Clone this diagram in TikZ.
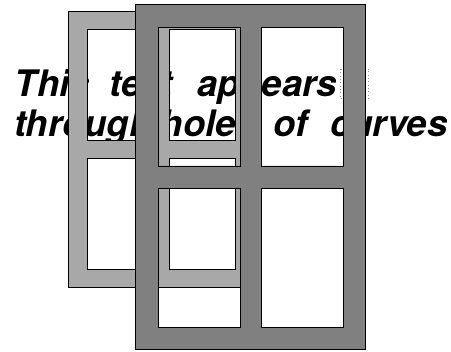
\documentclass[tikz,border=0pt]{standalone}
\usepackage{fontspec}
\newfontfamily\curvefont{TeX Gyre Heros}
\usepackage{tikz}
\usetikzlibrary{positioning}
\usepackage{xcolor}
\definecolor{FrameLight}{HTML}{A8A8A8}
\definecolor{FrameDark}{HTML}{808080}
\definecolor{CursorGray}{HTML}{9A9A9A}

\newcommand{\windowframe}[1]{%
  \filldraw[#1, even odd rule]
    (0,0) rectangle (230.7,345)
    (23.7,23) rectangle (105,161.7)
    (126.7,23) rectangle (208.3,161.7)
    (23.7,184.4) rectangle (105,323)
    (126.7,184.4) rectangle (208.3,323);}

\begin{document}
\begin{tikzpicture}[
  x=0.75pt, y=-0.75pt,
  curveword/.style={anchor=base west, inner sep=0pt, outer sep=0pt,
    font=\fontsize{27.4}{30}\selectfont\curvefont\bfseries\itshape},
  lightframe/.style={fill=FrameLight, draw=black, line width=0.6pt},
  darkframe/.style={fill=FrameDark, draw=black, line width=0.6pt},
  cursorbox/.style={draw=CursorGray, dotted, line width=0.5pt}
]
  \useasboundingbox (0,0) rectangle (451,352);

  % the words, placed one by one
  \node[curveword] (this)    at (15,97)   {This};
  \node[curveword] (text)    at (109,97)  {text};
  \node[curveword] (appears) at (197,97)  {appears};
  \node[curveword] (through) at (14,137)  {through};
  \node[curveword] (holes)   at (161,137) {holes};
  \node[curveword] (of)      at (273,137) {of};
  \node[curveword] (curves)  at (330,137) {curves};

  \draw[cursorbox] (340.7,69) rectangle (368.5,98.3);

  % back frame, the front one scaled by 0.8
  \begin{scope}[shift={(68.5,11.3)}, scale=0.8]
    \windowframe{lightframe}
  \end{scope}

  \begin{scope}[shift={(135,4.3)}]
    \windowframe{darkframe}
  \end{scope}
\end{tikzpicture}
\end{document}
